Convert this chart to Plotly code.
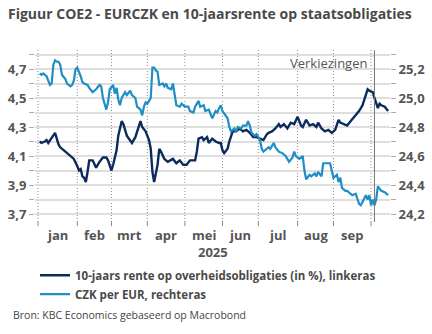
import numpy as np
import plotly.graph_objects as go

# ---- data ----
rente_dates = [
    "2025-01-02", "2025-01-03", "2025-01-07", "2025-01-08", "2025-01-09", "2025-01-13", "2025-01-15",
    "2025-01-17", "2025-01-20", "2025-01-22", "2025-01-24", "2025-01-28", "2025-01-30", "2025-02-03",
    "2025-02-04", "2025-02-05", "2025-02-06", "2025-02-07", "2025-02-10", "2025-02-11", "2025-02-12",
    "2025-02-14", "2025-02-18", "2025-02-20", "2025-02-24", "2025-02-26", "2025-02-27", "2025-03-03",
    "2025-03-04", "2025-03-06", "2025-03-07", "2025-03-11", "2025-03-12", "2025-03-14", "2025-03-18",
    "2025-03-19", "2025-03-21", "2025-03-24", "2025-03-26", "2025-03-27", "2025-03-31", "2025-04-02",
    "2025-04-03", "2025-04-04", "2025-04-07", "2025-04-09", "2025-04-10", "2025-04-11", "2025-04-15",
    "2025-04-17", "2025-04-22", "2025-04-24", "2025-04-28", "2025-04-30", "2025-05-02", "2025-05-06",
    "2025-05-09", "2025-05-12", "2025-05-13", "2025-05-15", "2025-05-16", "2025-05-20", "2025-05-21",
    "2025-05-23", "2025-05-27", "2025-05-29", "2025-05-30", "2025-06-02", "2025-06-03", "2025-06-05",
    "2025-06-06", "2025-06-10", "2025-06-12", "2025-06-16", "2025-06-18", "2025-06-20", "2025-06-24",
    "2025-06-26", "2025-06-30", "2025-07-02", "2025-07-04", "2025-07-08", "2025-07-09", "2025-07-11",
    "2025-07-15", "2025-07-17", "2025-07-18", "2025-07-22", "2025-07-24", "2025-07-28", "2025-07-30",
    "2025-08-01", "2025-08-05", "2025-08-06", "2025-08-08", "2025-08-12", "2025-08-14", "2025-08-18",
    "2025-08-19", "2025-08-21", "2025-08-25", "2025-08-27", "2025-08-29", "2025-09-02", "2025-09-04",
    "2025-09-05", "2025-09-09", "2025-09-11", "2025-09-15", "2025-09-17", "2025-09-19", "2025-09-22",
    "2025-09-24", "2025-09-25", "2025-09-29", "2025-09-30", "2025-10-02", "2025-10-03", "2025-10-06",
    "2025-10-07", "2025-10-08", "2025-10-09", "2025-10-13", "2025-10-15",
]
rente_values = [
    4.20, 4.19, 4.20, 4.21, 4.19, 4.23, 4.26,
    4.18, 4.16, 4.14, 4.12, 4.10, 4.08, 4.03,
    4.00, 4.01, 3.96, 3.95, 3.92, 3.99, 4.07,
    4.07, 4.02, 4.06, 4.09, 4.09, 4.07, 4.00,
    4.04, 4.14, 4.24, 4.34, 4.32, 4.24, 4.21,
    4.19, 4.23, 4.27, 4.34, 4.30, 4.27, 4.21,
    4.15, 3.99, 3.92, 4.04, 4.15, 4.13, 4.08,
    4.06, 4.08, 4.05, 4.07, 4.04, 4.04, 4.07,
    4.07, 4.13, 4.22, 4.23, 4.21, 4.23, 4.19,
    4.22, 4.20, 4.19, 4.19, 4.14, 4.12, 4.15,
    4.20, 4.27, 4.27, 4.29, 4.27, 4.28, 4.26,
    4.23, 4.23, 4.22, 4.21, 4.25, 4.26, 4.27,
    4.29, 4.32, 4.30, 4.32, 4.29, 4.33, 4.32,
    4.37, 4.31, 4.30, 4.35, 4.31, 4.32, 4.30,
    4.33, 4.29, 4.27, 4.28, 4.26, 4.28, 4.35,
    4.33, 4.32, 4.31, 4.34, 4.37, 4.40, 4.41,
    4.45, 4.49, 4.56, 4.55, 4.54, 4.50, 4.46,
    4.43, 4.46, 4.45, 4.44, 4.41,
]

czk_dates = [
    "2025-01-02", "2025-01-03", "2025-01-06", "2025-01-08", "2025-01-09", "2025-01-10", "2025-01-13",
    "2025-01-14", "2025-01-15", "2025-01-16", "2025-01-17", "2025-01-20", "2025-01-21", "2025-01-23",
    "2025-01-24", "2025-01-28", "2025-01-29", "2025-01-30", "2025-01-31", "2025-02-03", "2025-02-05",
    "2025-02-06", "2025-02-07", "2025-02-11", "2025-02-12", "2025-02-14", "2025-02-18", "2025-02-20",
    "2025-02-21", "2025-02-24", "2025-02-26", "2025-02-27", "2025-02-28", "2025-03-04", "2025-03-05",
    "2025-03-06", "2025-03-07", "2025-03-10", "2025-03-11", "2025-03-13", "2025-03-14", "2025-03-18",
    "2025-03-19", "2025-03-21", "2025-03-24", "2025-03-26", "2025-03-27", "2025-03-28", "2025-03-31",
    "2025-04-01", "2025-04-02", "2025-04-03", "2025-04-04", "2025-04-07", "2025-04-08", "2025-04-09",
    "2025-04-10", "2025-04-14", "2025-04-15", "2025-04-16", "2025-04-17", "2025-04-21", "2025-04-22",
    "2025-04-23", "2025-04-24", "2025-04-28", "2025-04-29", "2025-05-01", "2025-05-05", "2025-05-06",
    "2025-05-08", "2025-05-09", "2025-05-13", "2025-05-14", "2025-05-16", "2025-05-19", "2025-05-21",
    "2025-05-22", "2025-05-23", "2025-05-27", "2025-05-28", "2025-05-29", "2025-05-30", "2025-06-02",
    "2025-06-04", "2025-06-05", "2025-06-06", "2025-06-09", "2025-06-11", "2025-06-12", "2025-06-13",
    "2025-06-17", "2025-06-18", "2025-06-20", "2025-06-23", "2025-06-24", "2025-06-25", "2025-06-26",
    "2025-06-27", "2025-06-30", "2025-07-02", "2025-07-03", "2025-07-04", "2025-07-08", "2025-07-09",
    "2025-07-10", "2025-07-14", "2025-07-15", "2025-07-17", "2025-07-21", "2025-07-23", "2025-07-25",
    "2025-07-29", "2025-07-30", "2025-07-31", "2025-08-04", "2025-08-06", "2025-08-07", "2025-08-08",
    "2025-08-12", "2025-08-13", "2025-08-15", "2025-08-18", "2025-08-19", "2025-08-21", "2025-08-22",
    "2025-08-25", "2025-08-27", "2025-08-28", "2025-08-29", "2025-09-01", "2025-09-03", "2025-09-04",
    "2025-09-05", "2025-09-08", "2025-09-10", "2025-09-11", "2025-09-15", "2025-09-16", "2025-09-18",
    "2025-09-19", "2025-09-22", "2025-09-23", "2025-09-25", "2025-09-26", "2025-09-29", "2025-09-30",
    "2025-10-01", "2025-10-02", "2025-10-03", "2025-10-06", "2025-10-07", "2025-10-08", "2025-10-09",
    "2025-10-13", "2025-10-15",
]
czk_values = [
    25.17, 25.16, 25.17, 25.15, 25.12, 25.09, 25.10,
    25.23, 25.26, 25.25, 25.25, 25.23, 25.16, 25.13,
    25.10, 25.08, 25.09, 25.12, 25.20, 25.21, 25.15,
    25.11, 25.10, 25.09, 25.07, 25.04, 25.06, 25.09,
    25.08, 25.00, 24.92, 24.97, 25.06, 25.09, 25.03,
    25.07, 24.99, 24.95, 25.00, 25.04, 25.02, 25.05,
    25.02, 25.00, 24.94, 24.92, 24.88, 24.94, 24.97,
    24.96, 24.98, 25.00, 25.21, 25.21, 25.19, 25.18,
    25.09, 25.10, 25.08, 25.10, 25.07, 25.06, 25.10,
    25.02, 24.95, 24.94, 24.96, 24.94, 24.94, 24.91,
    24.90, 24.94, 24.98, 24.94, 24.95, 24.91, 24.92,
    24.89, 24.86, 24.91, 24.90, 24.93, 24.95, 24.91,
    24.87, 24.86, 24.80, 24.77, 24.79, 24.77, 24.80,
    24.79, 24.81, 24.81, 24.84, 24.81, 24.76, 24.75,
    24.74, 24.75, 24.71, 24.65, 24.63, 24.65, 24.66,
    24.65, 24.69, 24.66, 24.63, 24.62, 24.60, 24.56,
    24.59, 24.63, 24.60, 24.58, 24.60, 24.50, 24.44,
    24.47, 24.46, 24.48, 24.46, 24.49, 24.46, 24.55,
    24.55, 24.55, 24.55, 24.50, 24.45, 24.47, 24.42,
    24.45, 24.38, 24.36, 24.36, 24.34, 24.33, 24.34,
    24.30, 24.27, 24.26, 24.30, 24.33, 24.30, 24.33,
    24.26, 24.30, 24.26, 24.30, 24.39, 24.37, 24.36,
    24.35, 24.33,
]

month_starts = ["2025-01-01", "2025-02-01", "2025-03-01", "2025-04-01", "2025-05-01",
                "2025-06-01", "2025-07-01", "2025-08-01", "2025-09-01", "2025-10-01"]
month_labels = ["jan", "feb", "mrt", "apr", "mei", "jun", "jul", "aug", "sep"]
year_label = "2025"
election_date = "2025-10-03"
election_label = "Verkiezingen"
axis_start = "2025-01-01"

name_rente = "10-jaars rente op overheidsobligaties (in %), linkeras"
name_czk = "CZK per EUR, rechteras"


# business-day scale (the source chart skips weekends)
def bday(d):
    return np.busday_count(axis_start, d).astype(float)


x_rente = bday(rente_dates)
x_czk = bday(czk_dates)
x_months = bday(month_starts)
x_mid = (x_months[:-1] + x_months[1:]) / 2.0
x_election = float(bday(election_date))
x_range = [-1.76, float(bday("2025-10-16")) + 0.1]

DARK = "#0c2b5c"
LIGHT = "#1f8ec4"
TXT = "#555555"
FONT = "Open Sans"

fig = go.Figure()
fig.add_trace(go.Scatter(x=x_rente, y=rente_values, name=name_rente, mode="lines",
                         line=dict(color=DARK, width=2.4), yaxis="y"))
fig.add_trace(go.Scatter(x=x_czk, y=czk_values, name=name_czk, mode="lines",
                         line=dict(color=LIGHT, width=2.2), yaxis="y2"))

# month boundary gridlines (dotted) and short tick marks below the plot
for xm in x_months:
    fig.add_shape(type="line", xref="x", yref="paper", x0=xm, x1=xm, y0=0, y1=1,
                  line=dict(color="#8a8a8a", width=1, dash="1px,2px"), layer="between")
    fig.add_shape(type="line", xref="x", yref="paper", x0=xm, x1=xm, y0=-0.024, y1=0,
                  line=dict(color="#888888", width=1), layer="above")

fig.add_vline(x=x_election, line=dict(color="#777777", width=1))
fig.add_annotation(x=x_election, xref="x", y=0.924, yref="paper", text=election_label,
                   showarrow=False, xanchor="right", yanchor="middle", xshift=-5,
                   font=dict(family=FONT, size=13, color="#555555"))

for xm, lab in zip(x_mid, month_labels):
    fig.add_annotation(x=xm, xref="x", y=-0.073, yref="paper", text="<b>%s</b>" % lab,
                       showarrow=False, xanchor="center", yanchor="middle",
                       font=dict(family=FONT, size=13, color=TXT))
fig.add_annotation(x=0.5, xref="paper", y=-0.176, yref="paper", text="<b>%s</b>" % year_label,
                   showarrow=False, xanchor="center", yanchor="middle",
                   font=dict(family=FONT, size=13, color=TXT))
fig.add_annotation(x=-0.0676, xref="paper", y=-0.54, yref="paper",
                   text="Bron: KBC Economics gebaseerd op Macrobond", showarrow=False,
                   xanchor="left", yanchor="middle",
                   font=dict(family=FONT, size=10.5, color="#444444"))

fig.update_layout(
    width=432, height=334,
    margin=dict(l=35, r=42, t=50, b=112, autoexpand=False),
    paper_bgcolor="white", plot_bgcolor="white",
    separators=",.",
    font=dict(family=FONT, color=TXT),
    title=dict(text="<b>Figuur COE2 - EURCZK en 10-jaarsrente op staatsobligaties</b>",
               x=8 / 432, xref="container", xanchor="left",
               y=1 - 14 / 334, yref="container", yanchor="middle",
               font=dict(family=FONT, size=14, color="#4a4a4a")),
    showlegend=True,
    legend=dict(x=0.0, xanchor="left", y=-0.225, yanchor="top", orientation="v",
                font=dict(family=FONT, size=11.5, color="#4a4a4a", weight="bold"),
                itemwidth=30, tracegroupgap=0, bgcolor="rgba(0,0,0,0)"),
    xaxis=dict(
        range=x_range, automargin=False,
        showticklabels=False, ticks="", showgrid=False,
        showline=False, zeroline=False,
    ),
    yaxis=dict(
        range=[3.645, 4.831], tick0=3.7, dtick=0.2, tickformat=".1f",
        ticks="outside", ticklen=5, tickcolor="#aaaaaa",
        tickfont=dict(family=FONT, size=13, color=TXT, weight="bold"),
        showgrid=True, gridcolor="#dedede", gridwidth=1.5,
        zeroline=False, showline=False, automargin=False,
        minor=dict(tick0=3.7, dtick=0.1, ticks="outside", ticklen=5, tickcolor="#aaaaaa",
                   showgrid=True, gridcolor="#dedede", gridwidth=1.5),
    ),
    yaxis2=dict(
        overlaying="y", side="right", anchor="x",
        range=[24.145, 25.331], tick0=24.2, dtick=0.2, tickformat=".1f",
        ticks="outside", ticklen=5, tickcolor="#aaaaaa",
        tickfont=dict(family=FONT, size=13, color=TXT, weight="bold"),
        showgrid=False, zeroline=False, showline=False, automargin=False,
        minor=dict(tick0=24.2, dtick=0.1, ticks="outside", ticklen=5, tickcolor="#aaaaaa"),
    ),
)

fig.write_html("out.html")
